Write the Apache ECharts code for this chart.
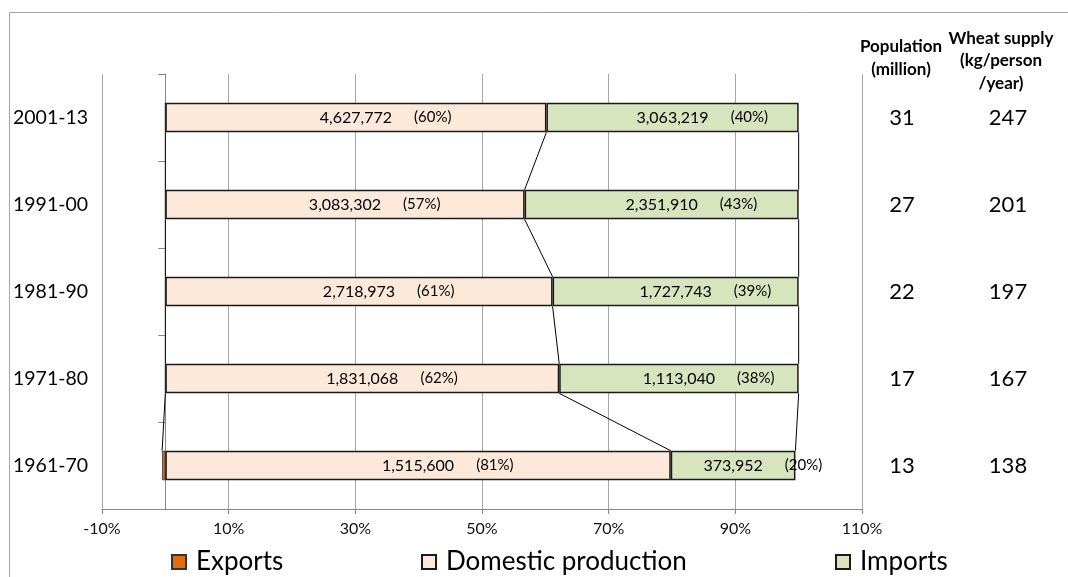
<!DOCTYPE html>
<html>
<head>
<meta charset="utf-8">
<script src="https://cdn.jsdelivr.net/npm/echarts@6/dist/echarts.min.js"></script>
<style>
  html, body { margin: 0; padding: 0; background: #fff; }
  #chart { width: 1068px; height: 577px; }
</style>
</head>
<body>
<div id="chart"></div>
<script>
// wheat balance per decade (tonnes)
const periods = ["1961-70", "1971-80", "1981-90", "1991-00", "2001-13"];
const exportsT = [9700, 0, 0, 0, 0];
const domestic = [1515600, 1831068, 2718973, 3083302, 4627772];
const imports = [373952, 1113040, 1727743, 2351910, 3063219];
const domesticPct = ["81%", "62%", "61%", "57%", "60%"];
const importsPct = ["20%", "38%", "39%", "43%", "40%"];
const population = [13, 17, 22, 27, 31];
const wheatSupply = [138, 167, 197, 201, 247];
const xTicks = { min: -10, max: 110, interval: 20 };

const FONT = "Lato";
const BAR_RATIO = 0.34;

// 100% stacked shares
const totals = periods.map((_, i) => exportsT[i] + domestic[i] + imports[i]);
const exportsShare = exportsT.map((v, i) => -v / totals[i] * 100);
const domesticShare = domestic.map((v, i) => v / totals[i] * 100);
const importsShare = imports.map((v, i) => v / totals[i] * 100);

// series lines between neighbouring bars
const edges = periods.map((_, i) => [
  exportsShare[i],
  domesticShare[i],
  domesticShare[i] + importsShare[i]
]);
const seriesLines = [];
for (let i = 0; i < periods.length - 1; i++) {
  seriesLines.push([i].concat(edges[i], edges[i + 1]));
}

const fmt = v => v.toLocaleString("en-US");

const chart = echarts.init(document.getElementById("chart"));

const labelRich = {
  v: { fontFamily: FONT, fontSize: 16, color: "#000" },
  p: { fontFamily: FONT, fontSize: 15, color: "#000", padding: [0, 0, 0, 22] },
  pad: { fontFamily: FONT, fontSize: 15, color: "rgba(0,0,0,0)", padding: [0, 22, 0, 0] }
};

const legendBase = {
  top: 544,
  icon: "rect",
  itemWidth: 14,
  itemHeight: 14,
  textStyle: { fontFamily: FONT, fontSize: 26, color: "#000", padding: [0, 0, 0, 5] }
};

chart.setOption({
  animation: false,
  grid: { left: 102, right: 206, top: 74, bottom: 68 },
  graphic: [
    {
      type: "rect",
      shape: { x: 9.5, y: 12.5, width: 1100, height: 600 },
      style: { fill: "none", stroke: "#a6a6a6", lineWidth: 1 },
      silent: true
    },
    {
      type: "text",
      style: {
        text: "Population\n(million)",
        x: 901, y: 58,
        textAlign: "center", textVerticalAlign: "middle",
        font: "bold 17px Lato", lineHeight: 23, fill: "#000"
      }
    },
    {
      type: "text",
      style: {
        text: "Wheat supply\n(kg/person\n/year)",
        x: 1001, y: 61,
        textAlign: "center", textVerticalAlign: "middle",
        font: "bold 17px Lato", lineHeight: 22.5, fill: "#000"
      }
    }
  ],
  legend: [
    Object.assign({ left: 166, data: ["Exports"] }, legendBase),
    Object.assign({ left: 416, data: ["Domestic production"] }, legendBase),
    Object.assign({ left: 830, data: ["Imports"] }, legendBase)
  ],
  xAxis: {
    type: "value",
    min: xTicks.min,
    max: xTicks.max,
    interval: xTicks.interval,
    axisLine: { show: true, lineStyle: { color: "#888", width: 1 } },
    axisTick: { show: true, length: 5, lineStyle: { color: "#888" } },
    splitLine: { show: true, lineStyle: { color: "#a6a6a6", width: 1 } },
    axisLabel: {
      formatter: v => v + "%",
      fontFamily: FONT, fontSize: 16, color: "#111", margin: 12
    }
  },
  yAxis: [
    {
      type: "category",
      data: periods,
      axisLine: { show: true, onZero: true, lineStyle: { color: "#888" } },
      axisTick: { show: true, length: 7, lineStyle: { color: "#888" } },
      axisLabel: { show: false },
      splitLine: { show: false }
    },
    {
      type: "category",
      data: periods,
      position: "left",
      axisLine: { show: false, onZero: false },
      axisTick: { show: false },
      axisLabel: { align: "left", margin: 89, fontFamily: FONT, fontSize: 19.5, color: "#000" }
    },
    {
      type: "category",
      data: periods,
      position: "right",
      axisLine: { show: false, onZero: false },
      axisTick: { show: false },
      axisLabel: {
        align: "center", margin: 40,
        formatter: (v, i) => String(population[i]),
        fontFamily: FONT, fontSize: 22, color: "#000"
      }
    },
    {
      type: "category",
      data: periods,
      position: "right",
      axisLine: { show: false, onZero: false },
      axisTick: { show: false },
      axisLabel: {
        align: "center", margin: 146,
        formatter: (v, i) => String(wheatSupply[i]),
        fontFamily: FONT, fontSize: 22, color: "#000"
      }
    }
  ],
  series: [
    {
      name: "Exports",
      type: "bar",
      stack: "total",
      barWidth: BAR_RATIO * 100 + "%",
      data: exportsShare,
      itemStyle: { color: "#E46C0A", borderColor: "#333", borderWidth: 0.8 }
    },
    {
      name: "Domestic production",
      type: "bar",
      stack: "total",
      data: domesticShare,
      itemStyle: { color: "#FDE9D9", borderColor: "#1a1a1a", borderWidth: 1.5 },
      label: {
        show: true,
        position: "inside",
        formatter: p => `{pad|(${domesticPct[p.dataIndex]})}{v|${fmt(domestic[p.dataIndex])}}{p|(${domesticPct[p.dataIndex]})}`,
        rich: labelRich
      }
    },
    {
      name: "Imports",
      type: "bar",
      stack: "total",
      data: importsShare,
      itemStyle: { color: "#D7E4BD", borderColor: "#1a1a1a", borderWidth: 1.5 },
      label: {
        show: true,
        position: "inside",
        formatter: p => `{pad|(${importsPct[p.dataIndex]})}{v|${fmt(imports[p.dataIndex])}}{p|(${importsPct[p.dataIndex]})}`,
        rich: labelRich
      }
    },
    {
      type: "custom",
      yAxisIndex: 0,
      silent: true,
      z: 1,
      data: seriesLines,
      encode: { y: 0, x: [1, 2, 3, 4, 5, 6] },
      renderItem: (params, api) => {
        const i = api.value(0);
        const half = api.size([0, 1])[1] * BAR_RATIO / 2;
        const children = [];
        for (let k = 0; k < 3; k++) {
          const lo = api.coord([api.value(1 + k), i]);
          const up = api.coord([api.value(4 + k), i + 1]);
          children.push({
            type: "line",
            shape: { x1: up[0], y1: up[1] + half, x2: lo[0], y2: lo[1] - half },
            style: { stroke: "#000", lineWidth: 1 }
          });
        }
        return { type: "group", children };
      }
    }
  ]
});
</script>
</body>
</html>
